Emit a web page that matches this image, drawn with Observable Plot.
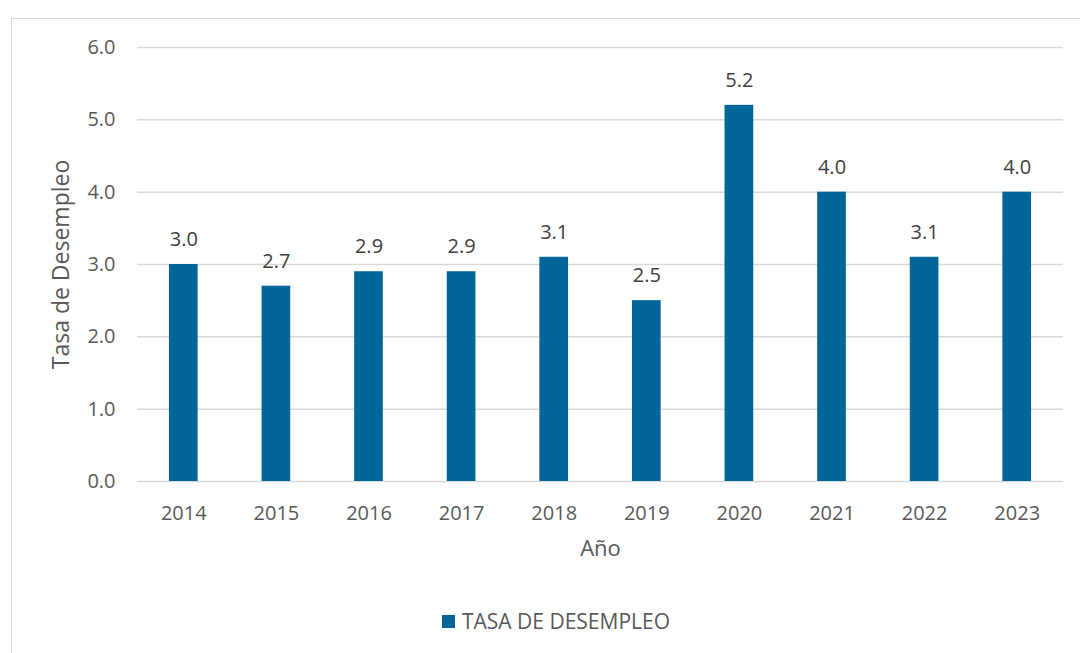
<!DOCTYPE html>
<html><head><meta charset="utf-8">
<script src="https://cdn.jsdelivr.net/npm/d3@7"></script>
<script src="https://cdn.jsdelivr.net/npm/@observablehq/plot@0.6"></script>
<style>
body{margin:0;background:#fff;font-family:"Open Sans",sans-serif;}
#wrap{position:relative;width:1080px;height:653px;overflow:hidden;}
#frame{position:absolute;left:11px;top:18px;width:1100px;height:700px;border:1px solid #d9d9d9;box-sizing:border-box;}
#chart{position:absolute;left:0;top:0;}
#legend{position:absolute;left:0;width:1080px;top:607px;text-align:center;font-size:21px;color:#595959;padding-left:32px;box-sizing:border-box;}
#legend span.sw{display:inline-block;width:13px;height:13px;background:#006699;margin-right:7px;vertical-align:1px;}
</style></head>
<body><div id="wrap"><div id="frame"></div><div id="chart"></div>
<div id="legend"><span class="sw"></span>TASA DE DESEMPLEO</div></div>
<script>
const years = ["2014","2015","2016","2017","2018","2019","2020","2021","2022","2023"];
const rates = [3.0, 2.7, 2.9, 2.9, 3.1, 2.5, 5.2, 4.0, 3.1, 4.0];
const yTicks = [0,1,2,3,4,5,6];
const data = years.map((y,i)=>({year:y, rate:rates[i]}));
const chart = Plot.plot({
  width:1080, height:600,
  marginLeft:137, marginRight:17, marginTop:47, marginBottom:119,
  style:{fontFamily:"Open Sans, sans-serif", fontSize:"20px", color:"#595959", background:"transparent"},
  x:{domain:years, paddingInner:0.69, paddingOuter:0.345, align:0.5, round:false},
  y:{domain:[0,6]},
  marks:[
    Plot.gridY(yTicks, {stroke:"#d9d9d9", strokeOpacity:1, strokeWidth:1.5}),
    Plot.barY(data, {x:"year", y:"rate", fill:"#006699"}),
    Plot.text(data, {x:"year", y:"rate", text:d=>d.rate.toFixed(1), dy:-25, fill:"#404040", fontSize:20}),
    Plot.axisX({tickSize:0, tickPadding:24, label:"Año", labelArrow:"none", labelAnchor:"center", labelOffset:74, fontSize:20}),
    Plot.axisY({ticks:yTicks, tickFormat:d=>d.toFixed(1), tickSize:0, tickPadding:22, label:"Tasa de Desempleo", labelArrow:"none", labelAnchor:"center", labelOffset:85, fontSize:20})
  ]
});
document.getElementById("chart").appendChild(chart);
d3.select(chart).selectAll("[aria-label='x-axis label']").style("font-size","22px");
d3.select(chart).selectAll("[aria-label='y-axis label']").style("font-size","23px");
</script></body></html>
